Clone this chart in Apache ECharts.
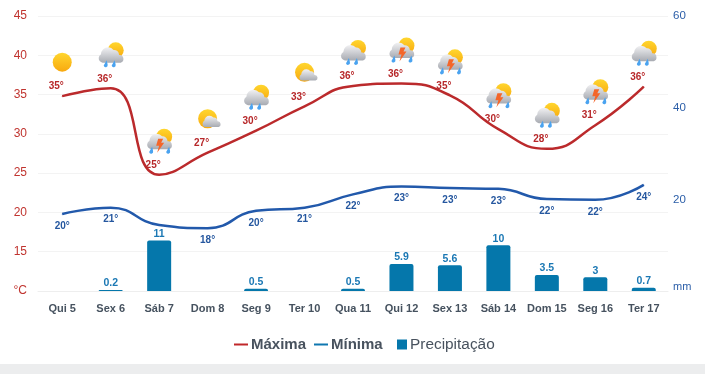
<!DOCTYPE html>
<html>
<head>
<meta charset="utf-8">
<style>
  html, body { margin: 0; padding: 0; background: #ecedee; overflow: hidden; }
  #main { width: 705px; height: 364px; background: #fff; }
</style>
</head>
<body>
<div id="main"></div>
<script src="https://cdn.jsdelivr.net/npm/echarts@6/dist/echarts.min.js"></script>
<script>
var days = ['Qui 5', 'Sex 6', 'Sáb 7', 'Dom 8', 'Seg 9', 'Ter 10', 'Qua 11', 'Qui 12', 'Sex 13', 'Sáb 14', 'Dom 15', 'Seg 16', 'Ter 17'];
var maxValues = [34.8, 35.8, 24.8, 27.6, 30.4, 33.5, 36.1, 36.4, 34.9, 30.6, 28.1, 31.1, 36];
var minValues = [19.8, 20.6, 18.4, 18, 20.2, 20.6, 22.3, 23.3, 23.1, 23, 21.7, 21.6, 23.5];
var maxLabels = ['35°', '36°', '25°', '27°', '30°', '33°', '36°', '36°', '35°', '30°', '28°', '31°', '36°'];
var minLabels = ['20°', '21°', '', '18°', '20°', '21°', '22°', '23°', '23°', '23°', '22°', '22°', '24°'];
var rain = [null, 0.2, 11, null, 0.5, null, 0.5, 5.9, 5.6, 10, 3.5, 3, 0.7];
var weather = ['sun', 'rain', 'storm', 'partly', 'rain', 'partly', 'rain', 'storm', 'storm', 'storm', 'rain', 'storm', 'rain'];

var FONT = '"Liberation Sans", Arial, sans-serif';

var sunFill = new echarts.graphic.LinearGradient(0, 0, 0, 1, [
  { offset: 0, color: '#ffd62e' }, { offset: 1, color: '#f8a90f' }
]);
var cloudFill = new echarts.graphic.LinearGradient(0, 0, 0, 1, [
  { offset: 0, color: '#f1f1f3' }, { offset: 1, color: '#a8abb2' }
]);

function sun(x, y, r) {
  return { type: 'circle', shape: { cx: x, cy: y, r: r }, style: { fill: sunFill } };
}
function cloud(x, y, k) {
  return {
    type: 'path',
    shape: {
      pathData: 'M4 15 A4 4 0 0 1 2.5 7.5 A6.5 6.5 0 0 1 14 3.5 A4.6 4.6 0 0 1 19 8 A3.6 3.6 0 0 1 20.5 15 Z',
      layout: 'cover',
      x: x, y: y, width: 24 * k, height: 15 * k
    },
    style: { fill: cloudFill }
  };
}
function drop(x, y) {
  return {
    type: 'path',
    shape: { pathData: 'M3 0 L4 4 A2 2 0 0 1 0 5 Z', layout: 'cover', x: x, y: y, width: 4, height: 7 },
    style: { fill: '#4aa3f0' }
  };
}
function bolt(x, y) {
  return {
    type: 'polygon',
    shape: { points: [[x + 2, y], [x + 7, y], [x + 5, y + 4], [x + 8, y + 4], [x + 1, y + 14], [x + 3, y + 7], [x, y + 7]] },
    style: { fill: '#f4662a' }
  };
}

function iconParts(kind) {
  if (kind == 'sun') return [sun(0, 0, 9.5)];
  if (kind == 'partly') return [sun(0, 0, 9.5), cloud(-5, -3, 0.75)];
  var parts = [sun(5, -4, 8), cloud(-12, -7, 1.03)];
  if (kind == 'storm') {
    parts.push(drop(-10, 6), drop(7, 6), bolt(-3, -2));
  } else {
    parts.push(drop(-7, 6), drop(1, 6));
  }
  return parts;
}

function renderIcon(params, api) {
  var p = api.coord([api.value(0), api.value(1)]);
  return {
    type: 'group',
    x: p[0],
    y: p[1] - 34,
    children: iconParts(weather[params.dataIndex])
  };
}

var chart = echarts.init(document.getElementById('main'), null, { renderer: 'canvas' });

var option = {
  animation: false,
  textStyle: { fontFamily: FONT },
  grid: { left: 38, right: 37, top: 16, height: 275, containLabel: false },
  legend: [
    {
      left: 229,
      top: 332,
      icon: 'rect',
      itemWidth: 14,
      itemHeight: 2,
      itemGap: 8,
      data: [
        { name: 'Máxima', itemStyle: { color: '#c0282a' } },
        { name: 'Mínima', itemStyle: { color: '#0f77b0' } }
      ],
      textStyle: { fontFamily: FONT, fontSize: 15, fontWeight: 'bold', color: '#48525e', padding: [0, 0, 0, -2] }
    },
    {
      left: 392,
      top: 332,
      icon: 'rect',
      itemWidth: 10,
      itemHeight: 10,
      data: [{ name: 'Precipitação' }],
      textStyle: { fontFamily: FONT, fontSize: 15.4, color: '#48525e', padding: [0, 0, 0, -2] }
    }
  ],
  xAxis: {
    type: 'category',
    data: days,
    axisLine: { lineStyle: { color: '#eeeeee' } },
    axisTick: { alignWithLabel: true, length: 9, lineStyle: { color: '#eeeeee' } },
    axisLabel: { color: '#46525f', fontSize: 11, fontWeight: 'bold', margin: 12, interval: 0 }
  },
  yAxis: [
    {
      type: 'value',
      min: 10,
      max: 45,
      interval: 5,
      axisLine: { show: false },
      axisTick: { show: false },
      splitLine: { lineStyle: { color: '#f3f3f3', width: 1 } },
      axisLabel: {
        color: '#c0342f',
        fontSize: 12,
        margin: 11,
        formatter: function (v) { return v == 10 ? '°C' : v; }
      }
    },
    {
      type: 'value',
      min: 0,
      max: 60,
      interval: 20,
      axisLine: { show: false },
      axisTick: { show: false },
      splitLine: { show: false },
      axisLabel: {
        color: '#2b5ea8',
        fontSize: 11.5,
        margin: 5,
        verticalAlign: 'middle',
        formatter: function (v) { return v == 0 ? '{mm|mm}' : v; },
        rich: { mm: { color: '#2b5ea8', fontSize: 11, padding: [0, 0, 9, 0] } }
      }
    }
  ],
  series: [
    {
      name: 'Precipitação',
      type: 'bar',
      yAxisIndex: 1,
      data: rain,
      barWidth: 24,
      itemStyle: { color: '#0577ab', borderRadius: [2, 2, 0, 0] },
      label: {
        show: true,
        position: 'top',
        distance: 1,
        color: '#1b78b4',
        fontSize: 10.5,
        fontWeight: 'bold'
      }
    },
    {
      name: 'Máxima',
      type: 'line',
      data: maxValues,
      smooth: 0.5,
      symbol: 'circle',
      symbolSize: 1,
      showAllSymbol: true,
      lineStyle: { color: '#bb2a2c', width: 2.5 },
      itemStyle: { color: '#bb2a2c' },
      label: {
        show: true,
        position: 'top',
        distance: 4,
        color: '#b7282a',
        fontSize: 10,
        fontWeight: 'bold',
        formatter: function (p) { return maxLabels[p.dataIndex]; }
      },
      labelLayout: { dx: -6, hideOverlap: false }
    },
    {
      name: 'Mínima',
      type: 'line',
      data: minValues,
      smooth: 0.5,
      symbol: 'circle',
      symbolSize: 1,
      showAllSymbol: true,
      lineStyle: { color: '#2259ab', width: 2.5 },
      itemStyle: { color: '#2259ab' },
      label: {
        show: true,
        position: 'bottom',
        distance: 6.5,
        color: '#25579f',
        fontSize: 10,
        fontWeight: 'bold',
        formatter: function (p) { return minLabels[p.dataIndex]; }
      },
      labelLayout: { hideOverlap: false }
    },
    {
      name: 'Tempo',
      type: 'custom',
      clip: false,
      silent: true,
      renderItem: renderIcon,
      encode: { x: 0, y: 1 },
      data: maxValues.map(function (v, i) { return [i, v]; })
    }
  ]
};

chart.setOption(option);
</script>
</body>
</html>
